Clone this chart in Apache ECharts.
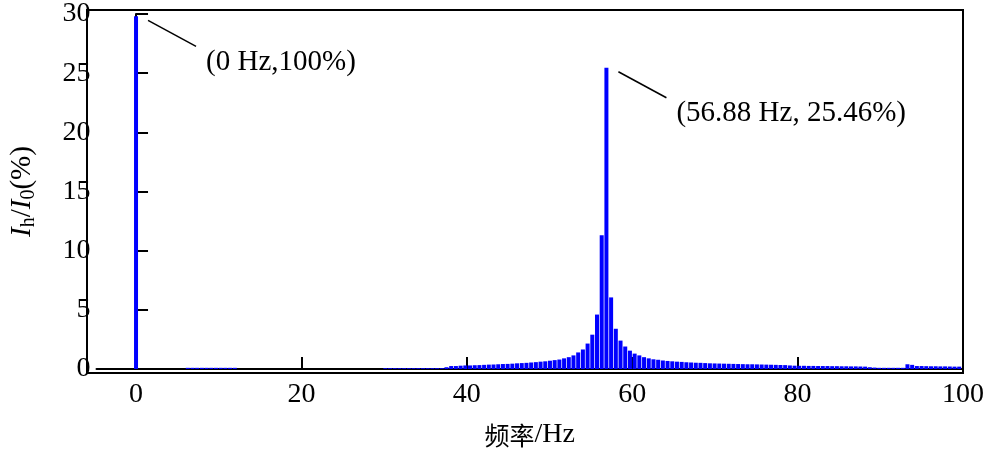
<!DOCTYPE html>
<html><head><meta charset="utf-8">
<script src="https://cdn.jsdelivr.net/npm/echarts@6/dist/echarts.min.js"></script>
<style>html,body{margin:0;padding:0;background:#fff}#c{width:993px;height:454px}</style>
</head><body><div id="c"></div>
<script>
const binHz = 0.5688;
const xTicks = [0, 20, 40, 60, 80, 100];
const yTicks = [0, 5, 10, 15, 20, 25, 30];
// amplitude per bin k (frequency k*binHz), in %
const amps = [
29.8,0,0,0,0,0,0,0,0,0, 0,0.1,0.1,0.1,0.1,0.1,0.1,0.1,0.1,0.1,
0.1,0.1,0,0,0,0,0,0,0,0, 0,0,0,0,0,0,0,0,0,0,
0,0,0,0,0,0,0,0,0,0, 0,0,0,0.07,0.07,0.07,0.07,0.07,0.07,0.07,
0.07,0.07,0.07,0.07,0.07,0.07,0.15,0.25,0.25,0.28, 0.3,0.3,0.32,0.33,0.35,0.37,0.38,0.4,0.42,0.43,
0.45,0.48,0.5,0.52,0.55,0.58,0.62,0.65,0.7,0.75, 0.8,0.9,1.0,1.15,1.4,1.65,2.15,2.9,4.6,11.3,
25.46,6.05,3.4,2.4,1.9,1.55,1.3,1.15,1.0,0.9, 0.82,0.78,0.72,0.68,0.65,0.62,0.6,0.57,0.55,0.53,
0.52,0.5,0.48,0.47,0.46,0.45,0.44,0.43,0.42,0.41, 0.4,0.4,0.39,0.38,0.37,0.36,0.35,0.34,0.33,0.3,
0.28,0.27,0.27,0.26,0.26,0.25,0.25,0.25,0.24,0.24, 0.23,0.23,0.22,0.22,0.21,0.2,0.15,0.12,0.1,0.1,
0.1,0.1,0.1,0.1,0.4,0.35,0.25,0.25,0.24,0.23, 0.23,0.22,0.22,0.21,0.2,0.2
];
const annotations = [
  {freq: 0, val: 29.8, text: '(0 Hz,100%)'},
  {freq: 56.88, val: 25.46, text: '(56.88 Hz, 25.46%)'}
];
const data = amps.map((v, k) => [k * binHz, v]);
const F = 'Liberation Serif';
const chart = echarts.init(document.getElementById('c'));
chart.setOption({
  animation: false,
  grid: {left: 87, right: 30, top: 10, bottom: 81},
  xAxis: {
    type: 'value', min: -4.78, max: 100,
    axisLine: {show: true, onZero: false, lineStyle: {color: '#000', width: 2}},
    axisTick: {show: true, inside: true, length: 12, customValues: xTicks, lineStyle: {color: '#000', width: 2}},
    axisLabel: {customValues: xTicks, color: '#000', fontFamily: F, fontSize: 28, margin: 12},
    splitLine: {show: false},
    name: '{a|频率}{b|/Hz}', nameLocation: 'middle', nameGap: 52,
    nameTextStyle: {rich: {a: {fontFamily: 'Noto Sans CJK SC', fontSize: 25, color: '#000'}, b: {fontFamily: F, fontSize: 28, color: '#000'}}}
  },
  yAxis: {
    type: 'value', min: 0, max: 30, interval: 5,
    axisLine: {show: true, lineStyle: {color: '#000', width: 2}},
    axisTick: {show: true, inside: true, length: 12, lineStyle: {color: '#000', width: 2}},
    axisLabel: {color: '#000', fontFamily: F, fontSize: 28, margin: 6},
    splitLine: {show: false},
    name: '{i|I}{s|h}{n|/}{i|I}{s|0}{n|(%)}', nameLocation: 'middle', nameGap: 58, nameRotate: 90,
    nameTextStyle: {rich: {
      i: {fontFamily: F, fontStyle: 'italic', fontSize: 29, color: '#000'},
      s: {fontFamily: F, fontSize: 20, color: '#000', padding: [12, 0, 0, 0]},
      n: {fontFamily: F, fontSize: 29, color: '#000'}
    }}
  },
  series: [{
    type: 'custom', data: data,
    renderItem: function (params, api) {
      const top = api.coord([api.value(0), api.value(1)]);
      const base = api.coord([api.value(0), 0]);
      return {type: 'rect', shape: {x: top[0] - 2, y: top[1], width: 4, height: base[1] - top[1]}, style: {fill: '#0000ff'}};
    }
  }]
});
const g = [{type: 'rect', shape: {x: 87, y: 10, width: 876, height: 363}, style: {fill: 'none', stroke: '#000', lineWidth: 2}, silent: true}];
annotations.forEach(a => {
  const p = chart.convertToPixel({gridIndex: 0}, [a.freq, a.val]);
  g.push({type: 'line', shape: {x1: p[0] + 12, y1: p[1] + 4, x2: p[0] + 60, y2: p[1] + 30}, style: {stroke: '#000', lineWidth: 1.5}});
  g.push({type: 'text', x: p[0] + 70, y: p[1] + 46, style: {text: a.text, font: '29px "Liberation Serif"', fill: '#000', textVerticalAlign: 'middle'}});
});
chart.setOption({graphic: g});
</script></body></html>
